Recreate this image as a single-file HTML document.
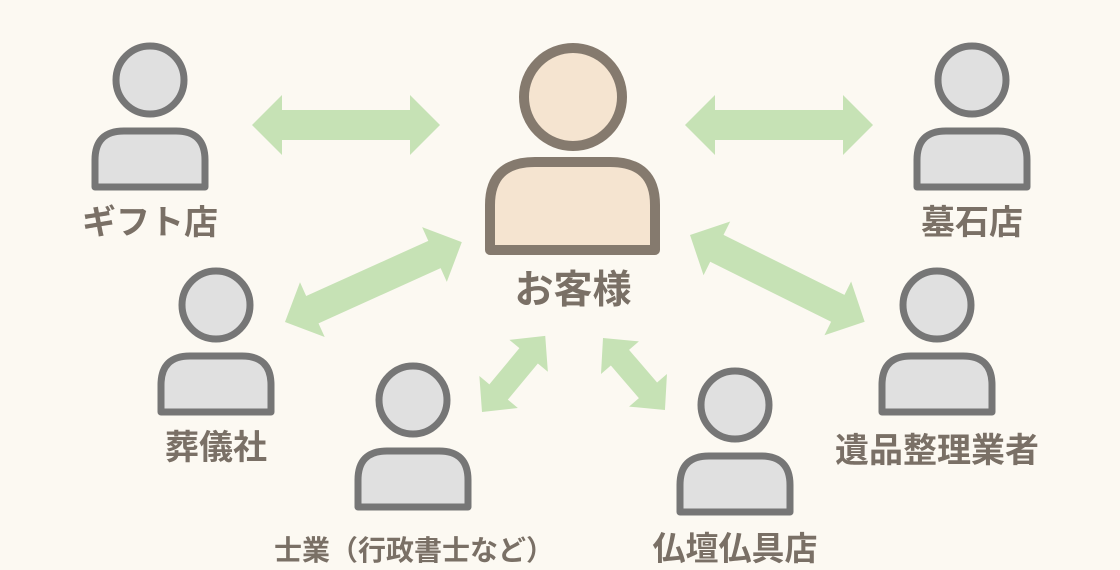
<!DOCTYPE html>
<html><head><meta charset="utf-8"><style>
html,body{margin:0;padding:0;background:#fcf9f2;}
svg{display:block}
text{font-family:"Liberation Sans","Noto Sans CJK JP",sans-serif;font-weight:bold;fill:#7a7066;text-anchor:middle}
</style></head><body>
<svg width="1120" height="570" viewBox="0 0 1120 570">
<rect width="1120" height="570" fill="#fcf9f2"/>
<g fill="#c6e2b5">
<g transform="translate(252,125)"><polygon points="0,0 30,-30 30,-15 158,-15 158,-30 188,0 158,30 158,15 30,15 30,30"/></g>
<g transform="translate(685,125)"><polygon points="0,0 30,-30 30,-15 158,-15 158,-30 188,0 158,30 158,15 30,15 30,30"/></g>
<g transform="translate(285,322) rotate(-24.3)"><polygon points="0,0 30,-30 30,-15 164,-15 164,-30 194,0 164,30 164,15 30,15 30,30"/></g>
<g transform="translate(690,235) rotate(26.4)"><polygon points="0,0 30,-30 30,-15 165,-15 165,-30 195,0 165,30 165,15 30,15 30,30"/></g>
<g transform="translate(482,412) rotate(-50.3)"><polygon points="0,0 26,-25 26,-12 73,-12 73,-25 99,0 73,25 73,12 26,12 26,25"/></g>
<g transform="translate(603,338) rotate(49.3)"><polygon points="0,0 26,-25 26,-12 69,-12 69,-25 95,0 69,25 69,12 26,12 26,25"/></g>
</g>
<g fill="#f5e4d0" stroke="#857a6e" stroke-width="10">
<circle cx="573" cy="97" r="49"/>
<path d="M490,250 L490,205 Q490,162 535,162 L610,162 Q655,162 655,205 L655,250 Z" stroke-linejoin="round"/>
</g>
<text x="573" y="303" font-size="39">お客様</text>
<g fill="#e0e0e0" stroke="#767676" stroke-width="7" stroke-linejoin="round">
<g transform="translate(150,0)"><circle cx="0" cy="80" r="34"/><path d="M-55,187 L-55,160 Q-55,131 -26,131 L26,131 Q55,131 55,160 L55,187 Z"/></g>
<g transform="translate(972,0)"><circle cx="0" cy="80" r="34"/><path d="M-55,187 L-55,160 Q-55,131 -26,131 L26,131 Q55,131 55,160 L55,187 Z"/></g>
<g transform="translate(216,225)"><circle cx="0" cy="80" r="34"/><path d="M-55,187 L-55,160 Q-55,131 -26,131 L26,131 Q55,131 55,160 L55,187 Z"/></g>
<g transform="translate(937,225)"><circle cx="0" cy="80" r="34"/><path d="M-55,187 L-55,160 Q-55,131 -26,131 L26,131 Q55,131 55,160 L55,187 Z"/></g>
<g transform="translate(413,320)"><circle cx="0" cy="80" r="34"/><path d="M-55,187 L-55,160 Q-55,131 -26,131 L26,131 Q55,131 55,160 L55,187 Z"/></g>
<g transform="translate(735,325)"><circle cx="0" cy="80" r="34"/><path d="M-55,187 L-55,160 Q-55,131 -26,131 L26,131 Q55,131 55,160 L55,187 Z"/></g>
</g>
<g font-size="34">
<text x="150" y="234">ギフト店</text>
<text x="972" y="234">墓石店</text>
<text x="216" y="459">葬儀社</text>
<text x="937" y="462">遺品整理業者</text>
<text x="414" y="560" font-size="28">士業（行政書士など）</text>
<text x="735" y="560" font-size="33">仏壇仏具店</text>
</g>
</svg>
</body></html>
